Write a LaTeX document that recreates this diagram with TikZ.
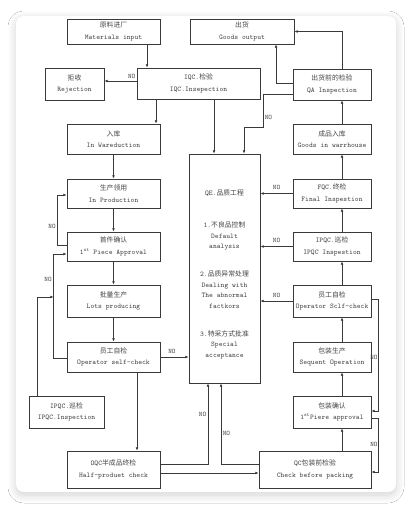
\documentclass[tikz,border=0pt]{standalone}
\usepackage{fontspec}
\newfontfamily\cjk[Scale=0.95]{Noto Sans CJK SC}
\usetikzlibrary{arrows.meta,positioning,calc,shadows.blur}
\definecolor{inkgray}{HTML}{3A3A3A}
\definecolor{txtgray}{HTML}{454545}
\tikzset{
  >={Latex[length=3.2pt,width=2.8pt]},
  font=\ttfamily\fontsize{7.2}{11.5}\selectfont,
  pbox/.style={draw=inkgray, line width=0.9pt, align=center, inner sep=0pt,
               text=txtgray, minimum height=30pt},
  lbox/.style={pbox, minimum width=93pt},
  rbox/.style={pbox, minimum width=78pt},
  qetxt/.style={align=center, inner sep=0pt, text=txtgray,
                font=\ttfamily\fontsize{7.2}{10.5}\selectfont},
  arr/.style={->, draw=inkgray, line width=0.7pt},
  lbl/.style={font=\ttfamily\fontsize{6.8}{8}\selectfont, text=txtgray, inner sep=1.5pt},
}
\newcommand{\zhtxt}[1]{{\cjk #1}}

\begin{document}
\begin{tikzpicture}[x=1pt, y=-1pt]
  % page and card
  \fill[white] (0,0) rectangle (412,511);
  \useasboundingbox (0,0) rectangle (412,511);
  \fill[white, rounded corners=8pt,
        blur shadow={shadow blur steps=12, shadow xshift=0pt, shadow yshift=-3pt,
                     shadow blur radius=8pt, shadow opacity=18}]
    (16,16) rectangle (396,492);

  % left column
  \node[lbox, minimum height=25pt] (mat) at (113.5,31.5) {\zhtxt{原料进厂}\\Materials input};
  \node[pbox, minimum width=59pt, minimum height=32pt] (rej) at (74.5,84) {\zhtxt{拒收}\\Rejection};
  \node[pbox, minimum width=123pt, minimum height=31pt] (iqc) at (198.5,83.5) {IQC.\zhtxt{检验}\\IQC.Insepection};
  \node[lbox] (ware) at (113.5,139) {\zhtxt{入库}\\In Wareduction};
  \node[lbox, minimum height=29pt] (prod) at (113.5,193.5) {\zhtxt{生产领用}\\In Production};
  \node[lbox, minimum height=29pt] (first) at (113.5,246.5) {\zhtxt{首件确认}\\1\textsuperscript{st} Piece Approval};
  \node[lbox, minimum height=32pt] (lots) at (113.5,301) {\zhtxt{批量生产}\\Lots producing};
  \node[lbox] (opl) at (113.5,357) {\zhtxt{员工自检}\\Operator self-check};
  \node[pbox, minimum width=75pt, minimum height=32pt] (ipqcl) at (66.5,412) {IPQC.\zhtxt{巡检}\\IPQC.Inspection};
  \node[lbox, minimum height=37pt] (oqc) at (113.5,469.5) {OQC\zhtxt{半成品终检}\\Half-produet check};

  % right column
  \node[pbox, minimum width=104pt, minimum height=25pt] (out) at (242,31.5) {\zhtxt{出货}\\Goods output};
  \node[rbox, minimum height=31pt] (qa) at (332,84.5) {\zhtxt{出货前的检验}\\QA Inspection};
  \node[rbox] (gwh) at (332,139) {\zhtxt{成品入库}\\Goods in warrhouse};
  \node[rbox, minimum height=29pt] (fqc) at (332,193.5) {FQC.\zhtxt{终检}\\Final Inspestion};
  \node[rbox, minimum height=29pt] (ipqcr) at (332,246.5) {IPQC.\zhtxt{巡检}\\IPQC Inspestion};
  \node[rbox, minimum height=32pt] (opr) at (332,301) {\zhtxt{员工自检}\\Operator Sclf-check};
  \node[rbox] (seq) at (332,357) {\zhtxt{包装生产}\\Sequent Operation};
  \node[rbox, minimum height=32pt] (pack) at (332,412) {\zhtxt{包装确认}\\1\textsuperscript{st}Piere approval};
  \node[pbox, minimum width=112pt, minimum height=37pt] (qcc) at (315,469.5) {QC\zhtxt{包装前检验}\\Check before packing};

  % quality engineering
  \node[pbox, minimum width=71pt, minimum height=229pt] (qe) at (224.5,268.5) {};
  \node[qetxt, anchor=north] (qetext) at ([yshift=-36.5pt]qe.north)
    {QE.\zhtxt{品质工程}\\[21.5pt]
     1.\zhtxt{不良品控制}\\Default\\analysis\\[17.5pt]
     2.\zhtxt{品质异常处理}\\Dealing with\\The abnormal\\factkors\\[17.5pt]
     3.\zhtxt{特采方式批准}\\Special\\acceptance};

  % incoming
  \draw[arr] ([xshift=33.5pt]mat.south) -- ([xshift=33.5pt]mat.south |- iqc.north);
  \draw[arr] ([yshift=2.5pt]iqc.west) -- node[lbl, pos=.15, above=1pt] {NO} ([yshift=3pt]rej.east);
  \draw[arr] ([xshift=42.5pt]ware.north |- iqc.south) -- ([xshift=42.5pt]ware.north);
  \draw[arr] ([xshift=-10.5pt]qe.north |- iqc.south) -- ([xshift=-10.5pt]qe.north);

  % production line
  \draw[arr] (ware) -- (prod);
  \draw[arr] (prod) -- (first);
  \draw[arr] (first) -- (lots);
  \draw[arr] (lots) -- (opl);
  \draw[arr] ([yshift=1.5pt]first.west) -- ++(-9,0) |- node[lbl, pos=.19, left] {NO} ([yshift=-1.5pt]prod.west);
  \draw[arr] ([yshift=-1pt]opl.west) -- ++(-13,0) |- node[lbl, pos=.38, left] {NO} ([yshift=-7.5pt]first.west);
  \draw[arr] ([xshift=-29.5pt]ipqcl.north) |- ([xshift=-13pt, yshift=4pt]lots.west);
  \draw[arr] (opl.east) -- node[lbl, pos=.41, above=2pt] {NO} (opl.east -| qe.west);
  \draw[arr] ([xshift=23.5pt]opl.south) -- ([xshift=23.5pt]opl.south |- oqc.north);

  % bottom
  \draw[arr] ([yshift=-3.5pt]oqc.east) -- ([yshift=-3.5pt]oqc.east -| qcc.west);
  \draw[arr] ([yshift=5.5pt]oqc.east) -| node[lbl, pos=.81, left] {NO} ([xshift=-16.5pt]qe.south);
  \draw[arr] ([yshift=5.5pt]qcc.west) -| node[lbl, pos=.69, right] {NO} ([xshift=-3.5pt]qe.south);

  % packing and final
  \draw[arr] ([xshift=10pt]pack.south |- qcc.north) -- ([xshift=10pt]pack.south);
  \draw[arr] ([xshift=10pt]pack.north) -- ([xshift=10pt]seq.south);
  \draw[arr] ([xshift=10pt]seq.north) -- ([xshift=10pt]opr.south);
  \draw[arr] ([xshift=10pt]opr.north) -- ([xshift=10pt]ipqcr.south);
  \draw[arr] ([xshift=10pt]ipqcr.north) -- ([xshift=10pt]fqc.south);
  \draw[arr] ([xshift=10pt]fqc.north) -- ([xshift=10pt]gwh.south);
  \draw[arr] ([xshift=10pt]gwh.north) -- ([xshift=10pt]qa.south);
  \draw[arr] ([yshift=2pt]opr.east) -- ++(7,0) |- node[lbl, pos=.26, left=-1pt] {NO} ([yshift=1pt]pack.east);
  \draw[arr] ([yshift=-6pt]pack.east) -- ++(7,0) |- node[lbl, pos=.24, left=-1pt] {NO} ([yshift=-2.5pt]qcc.east);
  \draw[arr] (fqc.west) -- node[lbl, above=2pt] {NO} (fqc.west -| qe.east);
  \draw[arr] (ipqcr.west) -- node[lbl, above=2pt] {NO} (ipqcr.west -| qe.east);
  \draw[arr] (opr.west) -- node[lbl, above=2pt] {NO} (opr.west -| qe.east);

  % shipping
  \draw[arr] ([xshift=10pt]qa.north) |- (out.east);
  \draw[arr] ([yshift=1.5pt]qa.west) -| ([xshift=34pt]out.south);
  \coordinate (qabend) at (263,127);
  \draw[arr] ([yshift=-9.5pt]qa.west) -| node[lbl, pos=.86, right] {NO} (qabend) -| ([xshift=19.5pt]qe.north);
\end{tikzpicture}
\end{document}
